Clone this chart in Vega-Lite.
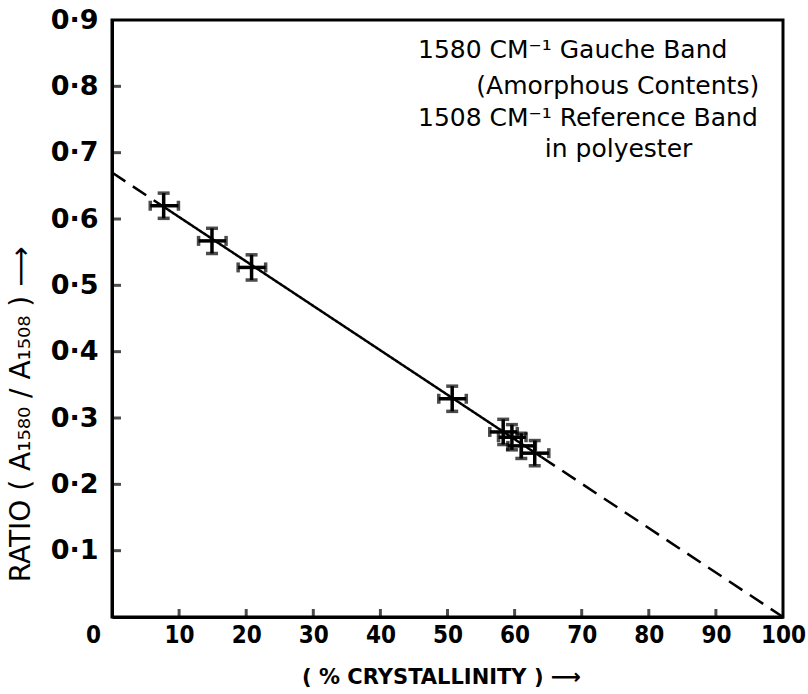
{
  "$schema": "https://vega.github.io/schema/vega-lite/v6.json",
  "width": 671,
  "height": 597,
  "autosize": "none",
  "padding": {"left": 112, "top": 20, "right": 25, "bottom": 77},
  "background": "white",
  "config": {
    "view": {"stroke": "black", "strokeWidth": 3},
    "font": "DejaVu Sans",
    "axis": {
      "grid": false,
      "ticks": false,
      "domainColor": "black",
      "domainWidth": 3,
      "labelColor": "black",
      "titleColor": "black",
      "labelFont": "DejaVu Sans",
      "titleFont": "DejaVu Sans",
      "labelFontSize": 21,
      "labelFontWeight": "bold",
      "titleFontSize": 21
    }
  },
  "datasets": {
    "points": [
      {"x": 7.7, "y": 0.62, "xlo": 5.7, "xhi": 9.9, "ylo": 0.601, "yhi": 0.639},
      {"x": 14.9, "y": 0.567, "xlo": 12.9, "xhi": 17.0, "ylo": 0.548, "yhi": 0.586},
      {"x": 20.8, "y": 0.527, "xlo": 18.8, "xhi": 22.9, "ylo": 0.508, "yhi": 0.546},
      {"x": 50.7, "y": 0.329, "xlo": 48.7, "xhi": 52.8, "ylo": 0.31, "yhi": 0.348},
      {"x": 58.3, "y": 0.279, "xlo": 56.3, "xhi": 60.4, "ylo": 0.26, "yhi": 0.298},
      {"x": 59.6, "y": 0.271, "xlo": 57.6, "xhi": 61.7, "ylo": 0.252, "yhi": 0.29},
      {"x": 61.0, "y": 0.258, "xlo": 59.0, "xhi": 63.1, "ylo": 0.239, "yhi": 0.277},
      {"x": 63.0, "y": 0.247, "xlo": 61.0, "xhi": 65.1, "ylo": 0.228, "yhi": 0.266}
    ],
    "fit": [
      {"x": 0, "y": 0.67, "seg": "dash1", "style": "dashed"},
      {"x": 7.7, "y": 0.6184, "seg": "dash1", "style": "dashed"},
      {"x": 7.7, "y": 0.6184, "seg": "solid", "style": "solid"},
      {"x": 64, "y": 0.2412, "seg": "solid", "style": "solid"},
      {"x": 64, "y": 0.2412, "seg": "dash2", "style": "dashed"},
      {"x": 100, "y": 0, "seg": "dash2", "style": "dashed"}
    ],
    "notes": [
      {"x": 45.6, "y": 0.855, "text": "1580 CM⁻¹ Gauche Band"},
      {"x": 54.3, "y": 0.8, "text": "(Amorphous Contents)"},
      {"x": 45.6, "y": 0.753, "text": "1508 CM⁻¹ Reference Band"},
      {"x": 64.5, "y": 0.705, "text": "in polyester"}
    ],
    "yticks": [
      {"x": 0, "y": 0.1}, {"x": 0, "y": 0.2}, {"x": 0, "y": 0.3}, {"x": 0, "y": 0.4},
      {"x": 0, "y": 0.5}, {"x": 0, "y": 0.6}, {"x": 0, "y": 0.7}, {"x": 0, "y": 0.8}
    ],
    "xticks": [
      {"x": 10, "y": 0}, {"x": 20, "y": 0}, {"x": 30, "y": 0}, {"x": 40, "y": 0}, {"x": 50, "y": 0},
      {"x": 60, "y": 0}, {"x": 70, "y": 0}, {"x": 80, "y": 0}, {"x": 90, "y": 0}
    ]
  },
  "layer": [
    {
      "data": {"name": "fit"},
      "mark": {"type": "line", "color": "black", "strokeWidth": 2.5},
      "encoding": {
        "x": {
          "field": "x", "type": "quantitative",
          "scale": {"domain": [0, 100], "nice": false, "zero": false},
          "axis": {
            "values": [0, 10, 20, 30, 40, 50, 60, 70, 80, 90, 100],
            "labelPadding": 6,
            "labelFontSize": 24,
            "labelFont": "DejaVu Sans Condensed",
            "labelOffset": {"condition": {"test": "datum.value == 0", "value": -19}, "value": 0},
            "labelFlush": false,
            "labelOverlap": false,
            "title": "( % CRYSTALLINITY ) ⟶",
            "titleFontWeight": "bold",
            "titleX": 329,
            "titleY": 60,
            "titleAlign": "center",
            "titleBaseline": "middle"
          }
        },
        "y": {
          "field": "y", "type": "quantitative",
          "scale": {"domain": [0, 0.9], "nice": false, "zero": false},
          "axis": {
            "values": [0.1, 0.2, 0.3, 0.4, 0.5, 0.6, 0.7, 0.8, 0.9],
            "labelPadding": 14,
            "labelFontSize": 27,
            "labelFlush": false,
            "labelOverlap": false,
            "labelExpr": "replace(format(datum.value, '.1f'), '.', '·')",
            "title": "RATIO ( A₁₅₈₀ / A₁₅₀₈ ) ⟶",
            "titleFontWeight": "normal",
            "titleFontSize": 28,
            "titleAngle": -90,
            "titleX": -91,
            "titleY": 394,
            "titleAlign": "center",
            "titleBaseline": "middle"
          }
        },
        "detail": {"field": "seg", "type": "nominal"},
        "strokeDash": {
          "field": "style", "type": "nominal",
          "scale": {"domain": ["solid", "dashed"], "range": [[1, 0], [16, 9]]},
          "legend": null
        }
      }
    },
    {
      "data": {"name": "yticks"},
      "mark": {"type": "tick", "color": "black", "thickness": 3, "size": 18, "orient": "horizontal", "clip": true},
      "encoding": {
        "y": {"field": "y", "type": "quantitative"},
        "x": {"field": "x", "type": "quantitative"}
      }
    },
    {
      "data": {"name": "xticks"},
      "mark": {"type": "tick", "color": "black", "thickness": 3, "size": 16, "orient": "vertical", "clip": true},
      "encoding": {
        "x": {"field": "x", "type": "quantitative"},
        "y": {"field": "y", "type": "quantitative"}
      }
    },
    {
      "data": {"name": "points"},
      "mark": {"type": "rule", "color": "black", "strokeWidth": 3.5},
      "encoding": {
        "x": {"field": "x", "type": "quantitative"},
        "y": {"field": "ylo", "type": "quantitative"},
        "y2": {"field": "yhi"}
      }
    },
    {
      "data": {"name": "points"},
      "mark": {"type": "rule", "color": "black", "strokeWidth": 3.5},
      "encoding": {
        "y": {"field": "y", "type": "quantitative"},
        "x": {"field": "xlo", "type": "quantitative"},
        "x2": {"field": "xhi"}
      }
    },
    {
      "data": {"name": "points"},
      "mark": {"type": "tick", "color": "black", "thickness": 3.5, "size": 12, "orient": "horizontal"},
      "encoding": {
        "x": {"field": "x", "type": "quantitative"},
        "y": {"field": "ylo", "type": "quantitative"}
      }
    },
    {
      "data": {"name": "points"},
      "mark": {"type": "tick", "color": "black", "thickness": 3.5, "size": 12, "orient": "horizontal"},
      "encoding": {
        "x": {"field": "x", "type": "quantitative"},
        "y": {"field": "yhi", "type": "quantitative"}
      }
    },
    {
      "data": {"name": "points"},
      "mark": {"type": "tick", "color": "black", "thickness": 3.5, "size": 10, "orient": "vertical"},
      "encoding": {
        "x": {"field": "xlo", "type": "quantitative"},
        "y": {"field": "y", "type": "quantitative"}
      }
    },
    {
      "data": {"name": "points"},
      "mark": {"type": "tick", "color": "black", "thickness": 3.5, "size": 10, "orient": "vertical"},
      "encoding": {
        "x": {"field": "xhi", "type": "quantitative"},
        "y": {"field": "y", "type": "quantitative"}
      }
    },
    {
      "data": {"name": "notes"},
      "mark": {"type": "text", "align": "left", "baseline": "middle", "font": "DejaVu Sans", "fontSize": 25, "color": "black"},
      "encoding": {
        "x": {"field": "x", "type": "quantitative"},
        "y": {"field": "y", "type": "quantitative"},
        "text": {"field": "text"}
      }
    }
  ]
}
